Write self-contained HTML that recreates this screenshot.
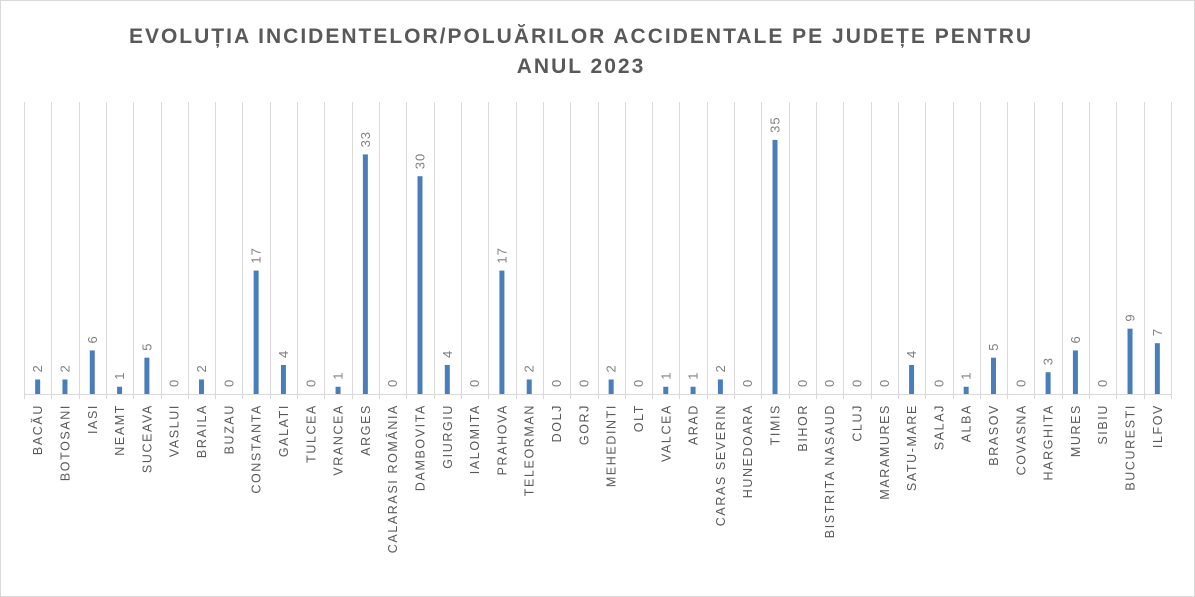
<!DOCTYPE html>
<html><head><meta charset="utf-8"><style>
body{margin:0;background:#fff}
svg{display:block;font-family:"Liberation Sans",sans-serif}
</style></head><body>
<svg id="chart" width="1195" height="597">
<rect x="0.5" y="0.5" width="1194" height="596" fill="#fff" stroke="#d9d9d9"/>
<text x="581" y="43" text-anchor="middle" font-size="21" font-weight="bold" fill="#595959" letter-spacing="2">EVOLUȚIA INCIDENTELOR/POLUĂRILOR ACCIDENTALE PE JUDEȚE PENTRU</text>
<text x="581" y="73" text-anchor="middle" font-size="21" font-weight="bold" fill="#595959" letter-spacing="2">ANUL 2023</text>
<g id="grid"></g><g id="bars"></g><g id="labels"></g>
</svg>
<script>
const categories=["BACĂU","BOTOSANI","IASI","NEAMT","SUCEAVA","VASLUI","BRAILA","BUZAU","CONSTANTA","GALATI","TULCEA","VRANCEA","ARGES","CALARASI ROMÂNIA","DAMBOVITA","GIURGIU","IALOMITA","PRAHOVA","TELEORMAN","DOLJ","GORJ","MEHEDINTI","OLT","VALCEA","ARAD","CARAS SEVERIN","HUNEDOARA","TIMIS","BIHOR","BISTRITA NASAUD","CLUJ","MARAMURES","SATU-MARE","SALAJ","ALBA","BRASOV","COVASNA","HARGHITA","MURES","SIBIU","BUCURESTI","ILFOV"];
const values=[2,2,6,1,5,0,2,0,17,4,0,1,33,0,30,4,0,17,2,0,0,2,0,1,1,2,0,35,0,0,0,0,4,0,1,5,0,3,6,0,9,7];
const NS="http://www.w3.org/2000/svg";
const plotLeft=24,plotRight=1171,plotBase=394,plotTop=102,unit=7.26;
const step=(plotRight-plotLeft)/categories.length;
const xs=i=>plotLeft+step*(i+0.5);
const ys=v=>plotBase-v*unit;
const g=document.getElementById('grid'),b=document.getElementById('bars'),l=document.getElementById('labels');
for(let i=0;i<=categories.length;i++){
 const ln=document.createElementNS(NS,'line');
 const x=Math.round(plotLeft+step*i)+0.5;
 ln.setAttribute('x1',x);ln.setAttribute('x2',x);ln.setAttribute('y1',plotTop);ln.setAttribute('y2',plotBase+5);
 ln.setAttribute('stroke','#d9d9d9');
 
 
 g.appendChild(ln);
}
const ax=document.createElementNS(NS,'line');
ax.setAttribute('x1',plotLeft);ax.setAttribute('x2',plotRight);ax.setAttribute('y1',plotBase+0.5);ax.setAttribute('y2',plotBase+0.5);ax.setAttribute('stroke','#d9d9d9');


g.appendChild(ax);
categories.forEach((c,i)=>{
 const x=xs(i),v=values[i];
 const r=document.createElementNS(NS,'rect');
 r.setAttribute('x',x-2.5);r.setAttribute('width',5);r.setAttribute('y',ys(v));r.setAttribute('height',plotBase-ys(v));r.setAttribute('fill','#4a7ebb');
 
 
 b.appendChild(r);
 const t=document.createElementNS(NS,'text');
 t.setAttribute('transform',`translate(${x+4.5},${ys(v)-7}) rotate(-90)`);
 t.setAttribute('font-size','13');t.setAttribute('fill','#7f7f7f');t.setAttribute('letter-spacing','1');
 t.textContent=v;
 
 
 l.appendChild(t);
 const c2=document.createElementNS(NS,'text');
 c2.setAttribute('transform',`translate(${x+4.5},${plotBase+10}) rotate(-90)`);
 c2.setAttribute('text-anchor','end');c2.setAttribute('font-size','12.5');c2.setAttribute('fill','#595959');c2.setAttribute('letter-spacing','1.6');
 c2.textContent=c;
 
 
 l.appendChild(c2);
});
</script>
</body></html>
